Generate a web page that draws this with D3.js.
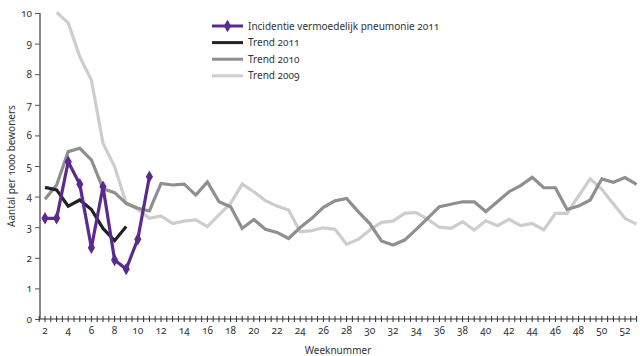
<!DOCTYPE html>
<html><head><meta charset="utf-8">
<script src="https://cdn.jsdelivr.net/npm/d3@7"></script>
<style>
body{margin:0;background:#fff;}
text{font-family:"Noto Sans","Open Sans",sans-serif;font-variant-numeric:oldstyle-nums;fill:#333;}
</style></head>
<body><svg id="c" width="640" height="356"></svg>
<script>
const incidence2011Weeks = [2,3,4,5,6,7,8,9,10,11];
const incidence2011 = [3.29,3.29,5.14,4.40,2.33,4.32,1.93,1.63,2.61,4.65];
const trend2011Weeks = [2,3,4,5,6,7,8,9];
const trend2011 = [4.30,4.22,3.69,3.89,3.58,2.96,2.56,3.02];
const trend2010Weeks = d3.range(2,54);
const trend2010 = [3.91,4.38,5.47,5.58,5.20,4.26,4.13,3.78,3.62,3.53,4.43,4.38,4.41,4.05,4.48,3.83,3.67,2.96,3.25,2.93,2.83,2.63,2.99,3.29,3.65,3.86,3.94,3.51,3.12,2.55,2.42,2.58,2.93,3.30,3.67,3.75,3.83,3.83,3.51,3.83,4.16,4.36,4.63,4.29,4.29,3.58,3.69,3.89,4.58,4.47,4.62,4.40];
const trend2009Weeks = d3.range(3,54);
const trend2009 = [10.02,9.68,8.57,7.81,5.74,4.98,3.78,3.58,3.29,3.37,3.12,3.20,3.24,3.02,3.40,3.78,4.41,4.16,3.87,3.69,3.56,2.85,2.89,2.98,2.93,2.44,2.60,2.91,3.16,3.20,3.45,3.48,3.26,3.00,2.96,3.18,2.91,3.21,3.05,3.26,3.05,3.12,2.91,3.45,3.45,4.02,4.58,4.24,3.76,3.29,3.10];
const yTicks = d3.range(0,11);
const xTickLabels = d3.range(2,53,2);
const legendLabels = ["Incidentie vermoedelijk pneumonie 2011","Trend 2011","Trend 2010","Trend 2009"];
const colors = ["#5b2a8e","#222222","#8f8f8f","#cdcdcd"];

const svg = d3.select("#c");
const x = d3.scaleLinear().domain([2,52]).range([45,625]);
const y = d3.scaleLinear().domain([0,10]).range([319,13]);

// y axis
const yAxis = svg.append("g").attr("transform","translate(40,0)")
  .call(d3.axisLeft(y).tickValues(yTicks).tickSize(5).tickPadding(3).tickFormat(d3.format("d")));
yAxis.select(".domain").attr("stroke","#8a8a8a").attr("stroke-width",2).attr("d","M0,13V319");
yAxis.selectAll(".tick line").attr("stroke","#555");
yAxis.selectAll(".tick text").style("font-size","10px").attr("fill","#333");

// x axis
const halfTicks = d3.range(1.5,53.01,0.5);
const xg = svg.append("g").attr("transform","translate(0,319)");
xg.append("line").attr("x1",x(1.5)).attr("x2",x(53)).attr("stroke","#333").attr("stroke-width",1.2);
xg.selectAll("line.t").data(halfTicks).join("line").attr("class","t")
  .attr("x1",d=>x(d)).attr("x2",d=>x(d)).attr("y1",-3).attr("y2",3)
  .attr("stroke","#333").attr("stroke-width",1);
xg.selectAll("text").data(xTickLabels).join("text")
  .attr("x",d=>x(d)).attr("y",15).attr("text-anchor","middle")
  .style("font-size","10px").text(d=>d);

svg.append("text").attr("x",338).attr("y",354).attr("text-anchor","middle")
  .style("font-size","10px").text("Weeknummer");
svg.append("text").attr("transform","translate(15,166) rotate(-90)").attr("text-anchor","middle")
  .style("font-size","10px").text("Aantal per 1000 bewoners");

const line = d3.line().x(d=>x(d[0])).y(d=>y(d[1]));
const series = [
  [trend2009Weeks,trend2009,3],
  [trend2010Weeks,trend2010,2],
  [trend2011Weeks,trend2011,1],
  [incidence2011Weeks,incidence2011,0]
];
series.forEach(([w,v,ci])=>{
  svg.append("path").datum(w.map((d,i)=>[d,v[i]]))
    .attr("fill","none").attr("stroke",colors[ci]).attr("stroke-width",3.2)
    .attr("stroke-linejoin","miter").attr("d",line);
});
const diamond = d3.symbol().type(d3.symbolDiamond).size(45);
svg.selectAll("path.m").data(incidence2011Weeks.map((d,i)=>[d,incidence2011[i]])).join("path")
  .attr("class","m").attr("d",diamond).attr("fill",colors[0])
  .attr("transform",d=>`translate(${x(d[0])},${y(d[1])})`);

// legend
const lg = svg.append("g");
legendLabels.forEach((t,i)=>{
  const yy = 26 + i*16.6;
  lg.append("line").attr("x1",212).attr("x2",243).attr("y1",yy).attr("y2",yy)
    .attr("stroke",colors[i]).attr("stroke-width",3);
  if(i===0) lg.append("path").attr("d",diamond).attr("fill",colors[0]).attr("transform",`translate(227.5,${yy})`);
  lg.append("text").attr("x",248).attr("y",yy+3.5).style("font-size","10px").text(t);
});
</script></body></html>
